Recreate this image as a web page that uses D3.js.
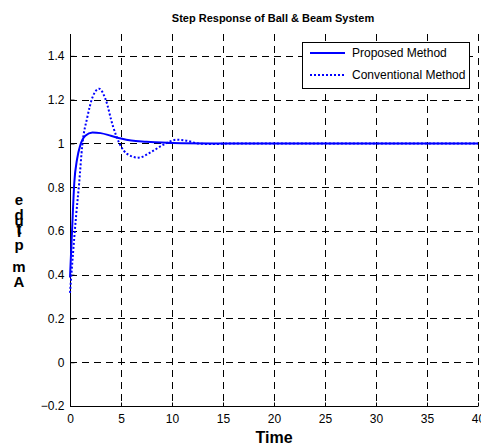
<!DOCTYPE html>
<html>
<head>
<meta charset="utf-8">
<script src="https://cdn.jsdelivr.net/npm/d3@7"></script>
<style>
  body { margin: 0; background: #fff; }
  svg { display: block; font-family: "Liberation Sans", Arial, sans-serif; }
</style>
</head>
<body>
<div id="chart"></div>
<script>
// data
const timeProposed = [0, 0.2, 0.42, 0.7, 1.0, 1.5, 2.2, 3.0, 4.0, 5.0, 6.0, 7.5, 9, 11, 14, 20, 40];
const proposed = [0.387, 0.6, 0.82, 0.93, 0.99, 1.035, 1.05, 1.047, 1.035, 1.022, 1.013, 1.008, 1.004, 1.001, 1.0, 1.0, 1.0];
const timeConventional = [0, 0.3, 0.6, 0.9, 1.2, 1.7, 2.2, 2.85, 3.5, 4.2, 4.9, 5.6, 6.7, 8.0, 9.0, 10.5, 11.5, 12.5, 14, 16, 20, 40];
const conventional = [0.317, 0.5, 0.67, 0.82, 0.99, 1.12, 1.21, 1.25, 1.2, 1.08, 0.995, 0.952, 0.935, 0.962, 0.99, 1.017, 1.012, 1.0, 0.997, 1.0, 1.0, 1.0];
const xTicks = [0, 5, 10, 15, 20, 25, 30, 35, 40];
const yTicks = [-0.2, 0, 0.2, 0.4, 0.6, 0.8, 1, 1.2, 1.4];
const seriesNames = ["Proposed Method", "Conventional Method"];

const width = 481, height = 446;
const svg = d3.select("#chart").append("svg")
  .attr("width", width)
  .attr("height", height);
svg.append("rect").attr("width", width).attr("height", height).attr("fill", "#fff");

const x = d3.scaleLinear().domain([0, 40]).range([70, 478]);
const y = d3.scaleLinear().domain([-0.2, 1.5]).range([406, 34]);

// grid
const grid = svg.append("g")
  .attr("stroke", "#000")
  .attr("stroke-width", 1)
  .attr("stroke-dasharray", "7,5");
grid.selectAll(".vg")
  .data(xTicks.filter(d => d > 0))
  .enter().append("line")
  .attr("x1", d => Math.round(x(d)) + 0.5).attr("x2", d => Math.round(x(d)) + 0.5)
  .attr("y1", y(1.5)).attr("y2", y(-0.2));
grid.selectAll(".hg")
  .data(yTicks.filter(d => d > -0.2))
  .enter().append("line")
  .attr("y1", d => Math.round(y(d)) + 0.5).attr("y2", d => Math.round(y(d)) + 0.5)
  .attr("x1", x(0)).attr("x2", x(40));

// axes
const xAxis = svg.append("g")
  .attr("transform", "translate(0," + (Math.round(y(-0.2)) + 0.5) + ")")
  .call(d3.axisBottom(x).tickValues(xTicks).tickSize(-4).tickPadding(8).tickFormat(d3.format("d")));
const yAxis = svg.append("g")
  .attr("transform", "translate(" + (Math.round(x(0)) + 0.5) + ",0)")
  .call(d3.axisLeft(y).tickValues(yTicks).tickSize(-4).tickPadding(6).tickFormat(d => d === 0 ? "0" : d3.format("")(+d.toFixed(1))));
[xAxis, yAxis].forEach(a => {
  a.select(".domain").attr("stroke", "#000");
  a.selectAll("text").attr("font-size", 12).attr("fill", "#000")
    .attr("font-family", "Liberation Sans, Arial, sans-serif");
});
xAxis.select(".domain").attr("d", "M" + x(0) + ",0H" + x(40));
yAxis.select(".domain").attr("d", "M0," + y(-0.2) + "V" + y(1.5));

// curves
const line = d3.line()
  .x(d => x(d[0]))
  .y(d => y(d[1]))
  .curve(d3.curveMonotoneX);

svg.append("path")
  .datum(d3.zip(timeConventional, conventional))
  .attr("d", line)
  .attr("fill", "none")
  .attr("stroke", "#0000ff")
  .attr("stroke-width", 2)
  .attr("stroke-dasharray", "2,2");

svg.append("path")
  .datum(d3.zip(timeProposed, proposed))
  .attr("d", line)
  .attr("fill", "none")
  .attr("stroke", "#0000ff")
  .attr("stroke-width", 2);

// title and labels
svg.append("text")
  .attr("x", 273).attr("y", 22)
  .attr("text-anchor", "middle")
  .attr("font-size", 11).attr("font-weight", "bold")
  .text("Step Response of Ball & Beam System");

svg.append("text")
  .attr("x", 274).attr("y", 443)
  .attr("text-anchor", "middle")
  .attr("font-size", 16).attr("font-weight", "bold")
  .text("Time");

// y label: letters stacked upright, as in the original rendering
const yLabel = "Amplitude".split("");
const letterY = [287, 272, 250, 237, 235, 234, 226, 220, 205];
svg.append("g")
  .attr("font-size", 15).attr("font-weight", "bold")
  .attr("text-anchor", "middle")
  .selectAll("text")
  .data(yLabel)
  .enter().append("text")
  .attr("x", 19)
  .attr("y", (d, i) => letterY[i])
  .text(d => d);

// legend
const legend = svg.append("g");
legend.append("rect")
  .attr("x", 302.5).attr("y", 42.5)
  .attr("width", 167).attr("height", 46)
  .attr("fill", "#fff").attr("stroke", "#000").attr("stroke-width", 1);
const entries = legend.selectAll(".entry")
  .data(seriesNames)
  .enter().append("g")
  .attr("transform", (d, i) => "translate(310," + (53 + i * 22) + ")");
entries.append("line")
  .attr("x1", 0).attr("x2", 35)
  .attr("stroke", "#0000ff").attr("stroke-width", 2)
  .attr("stroke-dasharray", (d, i) => i === 1 ? "2,2" : null);
entries.append("text")
  .attr("x", 42).attr("dy", "0.35em")
  .attr("font-size", 12)
  .text(d => d);
</script>
</body>
</html>
